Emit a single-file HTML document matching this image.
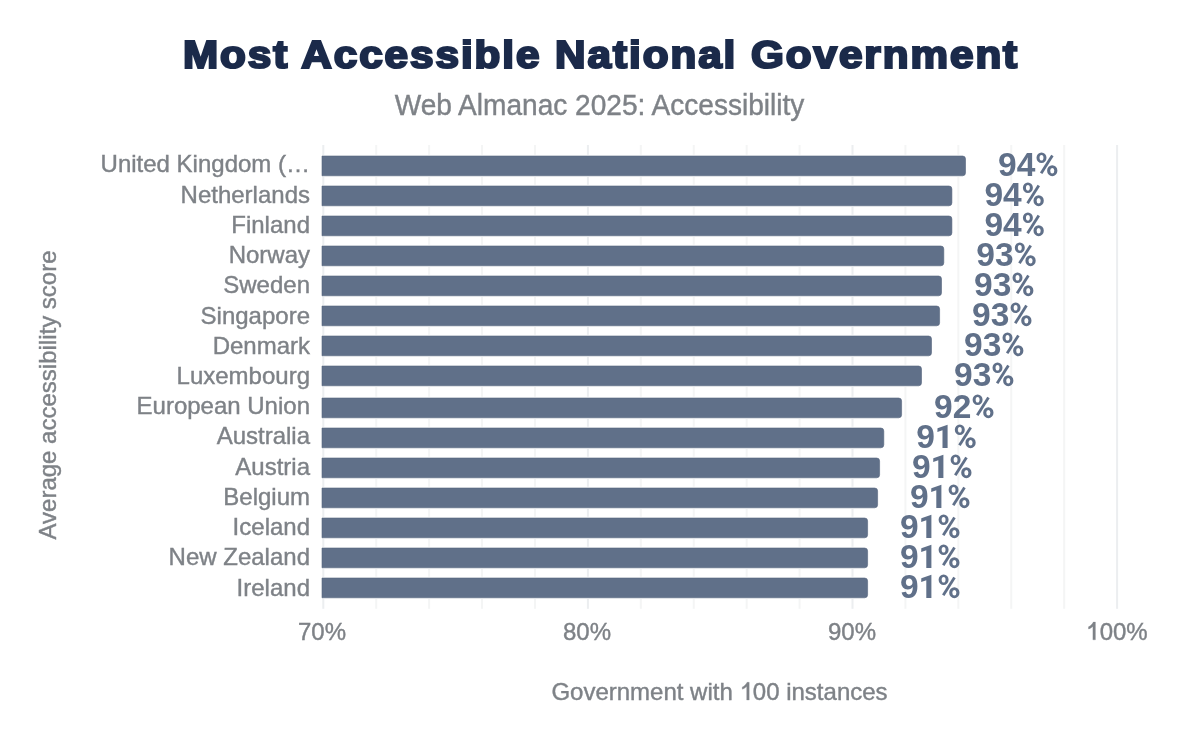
<!DOCTYPE html>
<html><head><meta charset="utf-8"><style>
html,body{margin:0;padding:0;background:#fff;}
body{width:1200px;height:742px;overflow:hidden;position:relative;}
svg{position:absolute;left:0;top:0;will-change:transform;}
text{font-family:"Liberation Sans",sans-serif;}
</style></head><body>
<svg width="1200" height="742" viewBox="0 0 1200 742">
<defs>
<path id="pct" fill-rule="evenodd" d="M37.2,-18.2 a5,5.3 0 1 0 10,0 a5,5.3 0 1 0 -10,0 Z M40.25,-18.2 a1.95,2.8 0 1 0 3.9,0 a1.95,2.8 0 1 0 -3.9,0 Z M47.8,-5.3 a5.15,5.5 0 1 0 10.3,0 a5.15,5.5 0 1 0 -10.3,0 Z M50.9,-5.3 a2.05,2.7 0 1 0 4.1,0 a2.05,2.7 0 1 0 -4.1,0 Z"/>
<line id="slash" x1="53.1" y1="-20.6" x2="41.85" y2="-2.65" stroke-width="2.8"/>
<path id="one1" d="M0,-17.7 L0,0 L-2.5,0 L-2.5,-13.4 C-3.6,-12.2 -5.2,-11.2 -6.9,-10.8 L-6.9,-13 C-4.8,-13.7 -3.1,-15.7 -2.1,-17.7 Z"/>
<path id="one" d="M30,-23.2 L30,0 L24.9,0 L24.9,-17.8 L19.8,-16.1 L19.9,-19.8 Z"/>
</defs>

<rect x="322.30" y="145" width="2" height="463.8" fill="#eceef0"/>
<rect x="375.22" y="145" width="2" height="463.8" fill="#f4f5f5"/>
<rect x="428.14" y="145" width="2" height="463.8" fill="#f4f5f5"/>
<rect x="481.06" y="145" width="2" height="463.8" fill="#f4f5f5"/>
<rect x="533.98" y="145" width="2" height="463.8" fill="#f4f5f5"/>
<rect x="586.90" y="145" width="2" height="463.8" fill="#eceef0"/>
<rect x="639.82" y="145" width="2" height="463.8" fill="#f4f5f5"/>
<rect x="692.74" y="145" width="2" height="463.8" fill="#f4f5f5"/>
<rect x="745.66" y="145" width="2" height="463.8" fill="#f4f5f5"/>
<rect x="798.58" y="145" width="2" height="463.8" fill="#f4f5f5"/>
<rect x="851.50" y="145" width="2" height="463.8" fill="#eceef0"/>
<rect x="904.42" y="145" width="2" height="463.8" fill="#f4f5f5"/>
<rect x="957.34" y="145" width="2" height="463.8" fill="#f4f5f5"/>
<rect x="1010.26" y="145" width="2" height="463.8" fill="#f4f5f5"/>
<rect x="1063.18" y="145" width="2" height="463.8" fill="#f4f5f5"/>
<rect x="1116.10" y="145" width="2" height="463.8" fill="#eceef0"/>
<rect x="320.7" y="154.70" width="646.10" height="22.40" rx="4" fill="#fff"/>
<path d="M322.0,156.00 h640.50 a3,3 0 0 1 3,3 v13.80 a3,3 0 0 1 -3,3 h-640.50 z" fill="#607089" stroke="#56647e" stroke-width="0.6"/>
<text x="310" y="172.30" font-size="24" fill="#7e8287" stroke="#7e8287" stroke-width="0.4" text-anchor="end">United Kingdom (…</text>
<text x="998.00" y="176.00" font-size="33.5" font-weight="bold" fill="#607089">94</text>
<g transform="translate(999.30,176.00)" fill="#607089" stroke="#607089"><use href="#pct" stroke="none"/><use href="#slash"/></g>
<rect x="320.7" y="184.70" width="632.50" height="22.40" rx="4" fill="#fff"/>
<path d="M322.0,186.00 h626.90 a3,3 0 0 1 3,3 v13.80 a3,3 0 0 1 -3,3 h-626.90 z" fill="#607089" stroke="#56647e" stroke-width="0.6"/>
<text x="310" y="202.54" font-size="24" fill="#7e8287" stroke="#7e8287" stroke-width="0.4" text-anchor="end">Netherlands</text>
<text x="984.40" y="206.00" font-size="33.5" font-weight="bold" fill="#607089">94</text>
<g transform="translate(985.70,206.00)" fill="#607089" stroke="#607089"><use href="#pct" stroke="none"/><use href="#slash"/></g>
<rect x="320.7" y="214.70" width="632.50" height="22.40" rx="4" fill="#fff"/>
<path d="M322.0,216.00 h626.90 a3,3 0 0 1 3,3 v13.80 a3,3 0 0 1 -3,3 h-626.90 z" fill="#607089" stroke="#56647e" stroke-width="0.6"/>
<text x="310" y="232.78" font-size="24" fill="#7e8287" stroke="#7e8287" stroke-width="0.4" text-anchor="end">Finland</text>
<text x="984.40" y="236.00" font-size="33.5" font-weight="bold" fill="#607089">94</text>
<g transform="translate(985.70,236.00)" fill="#607089" stroke="#607089"><use href="#pct" stroke="none"/><use href="#slash"/></g>
<rect x="320.7" y="244.70" width="624.40" height="22.40" rx="4" fill="#fff"/>
<path d="M322.0,246.00 h618.80 a3,3 0 0 1 3,3 v13.80 a3,3 0 0 1 -3,3 h-618.80 z" fill="#607089" stroke="#56647e" stroke-width="0.6"/>
<text x="310" y="263.02" font-size="24" fill="#7e8287" stroke="#7e8287" stroke-width="0.4" text-anchor="end">Norway</text>
<text x="976.30" y="266.00" font-size="33.5" font-weight="bold" fill="#607089">93</text>
<g transform="translate(977.60,266.00)" fill="#607089" stroke="#607089"><use href="#pct" stroke="none"/><use href="#slash"/></g>
<rect x="320.7" y="274.70" width="622.10" height="22.40" rx="4" fill="#fff"/>
<path d="M322.0,276.00 h616.50 a3,3 0 0 1 3,3 v13.80 a3,3 0 0 1 -3,3 h-616.50 z" fill="#607089" stroke="#56647e" stroke-width="0.6"/>
<text x="310" y="293.26" font-size="24" fill="#7e8287" stroke="#7e8287" stroke-width="0.4" text-anchor="end">Sweden</text>
<text x="974.00" y="296.00" font-size="33.5" font-weight="bold" fill="#607089">93</text>
<g transform="translate(975.30,296.00)" fill="#607089" stroke="#607089"><use href="#pct" stroke="none"/><use href="#slash"/></g>
<rect x="320.7" y="304.70" width="620.20" height="22.40" rx="4" fill="#fff"/>
<path d="M322.0,306.00 h614.60 a3,3 0 0 1 3,3 v13.80 a3,3 0 0 1 -3,3 h-614.60 z" fill="#607089" stroke="#56647e" stroke-width="0.6"/>
<text x="310" y="323.50" font-size="24" fill="#7e8287" stroke="#7e8287" stroke-width="0.4" text-anchor="end">Singapore</text>
<text x="972.10" y="326.00" font-size="33.5" font-weight="bold" fill="#607089">93</text>
<g transform="translate(973.40,326.00)" fill="#607089" stroke="#607089"><use href="#pct" stroke="none"/><use href="#slash"/></g>
<rect x="320.7" y="334.70" width="612.10" height="22.40" rx="4" fill="#fff"/>
<path d="M322.0,336.00 h606.50 a3,3 0 0 1 3,3 v13.80 a3,3 0 0 1 -3,3 h-606.50 z" fill="#607089" stroke="#56647e" stroke-width="0.6"/>
<text x="310" y="353.74" font-size="24" fill="#7e8287" stroke="#7e8287" stroke-width="0.4" text-anchor="end">Denmark</text>
<text x="964.00" y="356.00" font-size="33.5" font-weight="bold" fill="#607089">93</text>
<g transform="translate(965.30,356.00)" fill="#607089" stroke="#607089"><use href="#pct" stroke="none"/><use href="#slash"/></g>
<rect x="320.7" y="364.70" width="602.10" height="22.40" rx="4" fill="#fff"/>
<path d="M322.0,366.00 h596.50 a3,3 0 0 1 3,3 v13.80 a3,3 0 0 1 -3,3 h-596.50 z" fill="#607089" stroke="#56647e" stroke-width="0.6"/>
<text x="310" y="383.98" font-size="24" fill="#7e8287" stroke="#7e8287" stroke-width="0.4" text-anchor="end">Luxembourg</text>
<text x="954.00" y="386.00" font-size="33.5" font-weight="bold" fill="#607089">93</text>
<g transform="translate(955.30,386.00)" fill="#607089" stroke="#607089"><use href="#pct" stroke="none"/><use href="#slash"/></g>
<rect x="320.7" y="396.70" width="582.20" height="22.40" rx="4" fill="#fff"/>
<path d="M322.0,398.00 h576.60 a3,3 0 0 1 3,3 v13.80 a3,3 0 0 1 -3,3 h-576.60 z" fill="#607089" stroke="#56647e" stroke-width="0.6"/>
<text x="310" y="414.22" font-size="24" fill="#7e8287" stroke="#7e8287" stroke-width="0.4" text-anchor="end">European Union</text>
<text x="934.10" y="418.00" font-size="33.5" font-weight="bold" fill="#607089">92</text>
<g transform="translate(935.40,418.00)" fill="#607089" stroke="#607089"><use href="#pct" stroke="none"/><use href="#slash"/></g>
<rect x="320.7" y="426.70" width="564.40" height="22.40" rx="4" fill="#fff"/>
<path d="M322.0,428.00 h558.80 a3,3 0 0 1 3,3 v13.80 a3,3 0 0 1 -3,3 h-558.80 z" fill="#607089" stroke="#56647e" stroke-width="0.6"/>
<text x="310" y="444.46" font-size="24" fill="#7e8287" stroke="#7e8287" stroke-width="0.4" text-anchor="end">Australia</text>
<text x="916.30" y="448.00" font-size="33.5" font-weight="bold" fill="#607089">9</text>
<g transform="translate(917.60,448.00)" fill="#607089" stroke="#607089"><use href="#pct" stroke="none"/><use href="#slash"/><use href="#one" stroke="none"/></g>
<rect x="320.7" y="456.70" width="560.20" height="22.40" rx="4" fill="#fff"/>
<path d="M322.0,458.00 h554.60 a3,3 0 0 1 3,3 v13.80 a3,3 0 0 1 -3,3 h-554.60 z" fill="#607089" stroke="#56647e" stroke-width="0.6"/>
<text x="310" y="474.70" font-size="24" fill="#7e8287" stroke="#7e8287" stroke-width="0.4" text-anchor="end">Austria</text>
<text x="912.10" y="478.00" font-size="33.5" font-weight="bold" fill="#607089">9</text>
<g transform="translate(913.40,478.00)" fill="#607089" stroke="#607089"><use href="#pct" stroke="none"/><use href="#slash"/><use href="#one" stroke="none"/></g>
<rect x="320.7" y="486.70" width="558.20" height="22.40" rx="4" fill="#fff"/>
<path d="M322.0,488.00 h552.60 a3,3 0 0 1 3,3 v13.80 a3,3 0 0 1 -3,3 h-552.60 z" fill="#607089" stroke="#56647e" stroke-width="0.6"/>
<text x="310" y="504.94" font-size="24" fill="#7e8287" stroke="#7e8287" stroke-width="0.4" text-anchor="end">Belgium</text>
<text x="910.10" y="508.00" font-size="33.5" font-weight="bold" fill="#607089">9</text>
<g transform="translate(911.40,508.00)" fill="#607089" stroke="#607089"><use href="#pct" stroke="none"/><use href="#slash"/><use href="#one" stroke="none"/></g>
<rect x="320.7" y="516.70" width="548.20" height="22.40" rx="4" fill="#fff"/>
<path d="M322.0,518.00 h542.60 a3,3 0 0 1 3,3 v13.80 a3,3 0 0 1 -3,3 h-542.60 z" fill="#607089" stroke="#56647e" stroke-width="0.6"/>
<text x="310" y="535.18" font-size="24" fill="#7e8287" stroke="#7e8287" stroke-width="0.4" text-anchor="end">Iceland</text>
<text x="900.10" y="538.00" font-size="33.5" font-weight="bold" fill="#607089">9</text>
<g transform="translate(901.40,538.00)" fill="#607089" stroke="#607089"><use href="#pct" stroke="none"/><use href="#slash"/><use href="#one" stroke="none"/></g>
<rect x="320.7" y="546.70" width="548.20" height="22.40" rx="4" fill="#fff"/>
<path d="M322.0,548.00 h542.60 a3,3 0 0 1 3,3 v13.80 a3,3 0 0 1 -3,3 h-542.60 z" fill="#607089" stroke="#56647e" stroke-width="0.6"/>
<text x="310" y="565.42" font-size="24" fill="#7e8287" stroke="#7e8287" stroke-width="0.4" text-anchor="end">New Zealand</text>
<text x="900.10" y="568.00" font-size="33.5" font-weight="bold" fill="#607089">9</text>
<g transform="translate(901.40,568.00)" fill="#607089" stroke="#607089"><use href="#pct" stroke="none"/><use href="#slash"/><use href="#one" stroke="none"/></g>
<rect x="320.7" y="576.70" width="548.20" height="22.40" rx="4" fill="#fff"/>
<path d="M322.0,578.00 h542.60 a3,3 0 0 1 3,3 v13.80 a3,3 0 0 1 -3,3 h-542.60 z" fill="#607089" stroke="#56647e" stroke-width="0.6"/>
<text x="310" y="595.66" font-size="24" fill="#7e8287" stroke="#7e8287" stroke-width="0.4" text-anchor="end">Ireland</text>
<text x="900.10" y="598.00" font-size="33.5" font-weight="bold" fill="#607089">9</text>
<g transform="translate(901.40,598.00)" fill="#607089" stroke="#607089"><use href="#pct" stroke="none"/><use href="#slash"/><use href="#one" stroke="none"/></g>
<text x="322.00" y="640" font-size="24" fill="#7e8287" stroke="#7e8287" stroke-width="0.4" text-anchor="middle">70%</text>
<text x="587.00" y="640" font-size="24" fill="#7e8287" stroke="#7e8287" stroke-width="0.4" text-anchor="middle">80%</text>
<text x="852.00" y="640" font-size="24" fill="#7e8287" stroke="#7e8287" stroke-width="0.4" text-anchor="middle">90%</text>
<text x="1117.00" y="640" font-size="24" fill="#7e8287" stroke="#7e8287" stroke-width="0.4" text-anchor="middle"><tspan fill="transparent" stroke="transparent">1</tspan>00%</text>
<use href="#one1" transform="translate(1095.4,639.8)" fill="#7e8287" stroke="#7e8287" stroke-width="0.3"/>
<text x="719.5" y="700" font-size="24" fill="#7e8287" stroke="#7e8287" stroke-width="0.4" text-anchor="middle">Government with <tspan fill="transparent" stroke="transparent">1</tspan>00 instances</text>
<use href="#one1" transform="translate(749.2,700)" fill="#7e8287" stroke="#7e8287" stroke-width="0.3"/>
<text transform="translate(56,395) rotate(-90)" x="0" y="0" font-size="24" fill="#7e8287" stroke="#7e8287" stroke-width="0.4" text-anchor="middle">Average accessibility score</text>
<text transform="translate(601,68.2) scale(1.083,0.975)" font-size="39" font-weight="bold" fill="#1b2a4a" text-anchor="middle" stroke="#1b2a4a" stroke-width="2.3" letter-spacing="1.8">Most Accessible National Government</text>
<text transform="translate(599.5,115) scale(1.0025,1.085)" font-size="28" fill="#7e8287" stroke="#7e8287" stroke-width="0.4" text-anchor="middle">Web Almanac 2025: Accessibility</text>
</svg></body></html>
